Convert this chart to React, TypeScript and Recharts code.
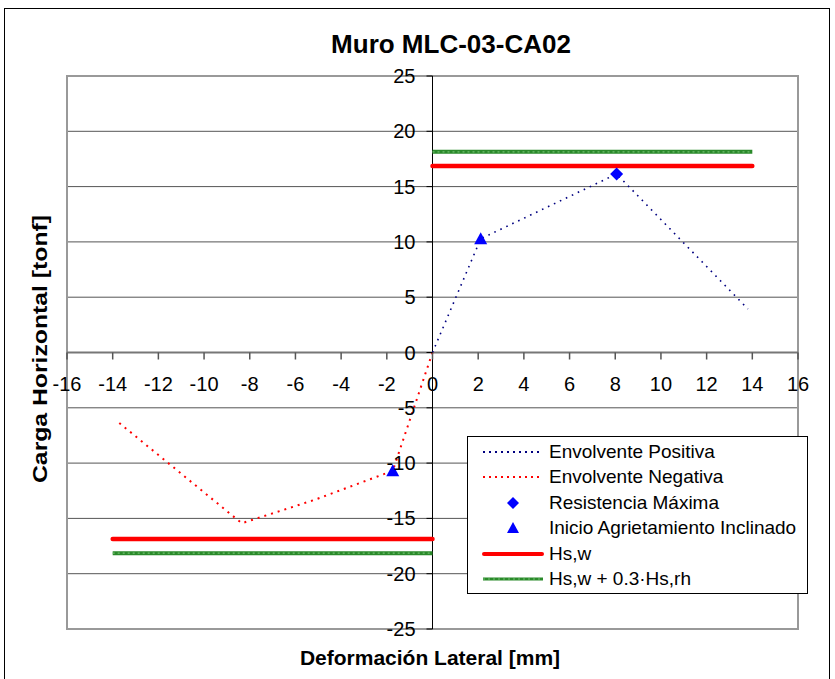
import React from 'react';
import {
  ComposedChart,
  Line,
  Scatter,
  XAxis,
  YAxis,
  CartesianGrid,
  ReferenceLine,
  ReferenceArea,
  Legend,
} from 'recharts';

const FONT = '"Liberation Sans", Arial, Helvetica, sans-serif';

// Chart frame
const WIDTH = 835;
const HEIGHT = 679;
const AXIS_SIZE = 1;
const MARGIN = { top: 76, right: 37, bottom: 50 - AXIS_SIZE, left: 67 - AXIS_SIZE };
const PLOT_W = 731;
const PLOT_H = 553;

// Axis ticks
const xTicks = [-16, -14, -12, -10, -8, -6, -4, -2, 0, 2, 4, 6, 8, 10, 12, 14, 16];
const yTicks = [-25, -20, -15, -10, -5, 0, 5, 10, 15, 20, 25];

// Envelopes [mm, tonf]
const envolventePositiva = [
  { x: 0, y: 0 },
  { x: 2.11, y: 10.28 },
  { x: 8.06, y: 16.14 },
  { x: 13.81, y: 3.93 },
];
const envolventeNegativa = [
  { x: 0, y: 0 },
  { x: -1.74, y: -10.7 },
  { x: -5.2, y: -13.35 },
  { x: -8.35, y: -15.44 },
  { x: -13.83, y: -6.17 },
];

// Characteristic points
const resistenciaMaxima = [{ x: 8.06, y: 16.14 }];
const inicioAgrietamiento = [
  { x: 2.11, y: 10.28 },
  { x: -1.74, y: -10.7 },
];

// Design strengths
const hswPos = [
  { x: 0, y: 16.87 },
  { x: 14, y: 16.87 },
];
const hswNeg = [
  { x: -14, y: -16.87 },
  { x: 0, y: -16.87 },
];
const hswRhPos = [
  { x: 0, y: 18.14 },
  { x: 14, y: 18.14 },
];
const hswRhNeg = [
  { x: -14, y: -18.14 },
  { x: 0, y: -18.14 },
];

const legendItems = [
  { label: 'Envolvente Positiva', kind: 'dotted', color: '#000080' },
  { label: 'Envolvente Negativa', kind: 'dotted', color: '#FF0000' },
  { label: 'Resistencia Máxima', kind: 'diamond', color: '#0000FF' },
  { label: 'Inicio Agrietamiento Inclinado', kind: 'triangle', color: '#0000FF' },
  { label: 'Hs,w', kind: 'red', color: '#FF0000' },
  { label: 'Hs,w + 0.3·Hs,rh', kind: 'green', color: '#2A8A2A' },
];

const Diamond = (props: any) => {
  const { cx, cy } = props;
  const r = 6.5;
  return (
    <polygon
      points={`${cx},${cy - r} ${cx + r},${cy} ${cx},${cy + r} ${cx - r},${cy}`}
      fill="#0000FF"
    />
  );
};

const Triangle = (props: any) => {
  const { cx, cy } = props;
  return (
    <polygon
      points={`${cx},${cy - 6.5} ${cx + 6.5},${cy + 5.5} ${cx - 6.5},${cy + 5.5}`}
      fill="#0000FF"
    />
  );
};

// X ticks drawn along the y = 0 line (axis sits at the plot bottom)
const renderXTick = (props: any) => {
  const { x, y, payload } = props;
  const zeroY = y - PLOT_H / 2;
  return (
    <g key={`xt-${payload.value}`}>
      <line x1={x} y1={zeroY} x2={x} y2={zeroY + 7} stroke="#555" strokeWidth={1.5} />
      <text
        x={x}
        y={zeroY + 38}
        textAnchor="middle"
        fontFamily={FONT}
        fontSize={20}
        fill="#000"
      >
        {payload.value}
      </text>
    </g>
  );
};

// Y ticks drawn along the x = 0 line (axis sits at the plot left)
const renderYTick = (props: any) => {
  const { x, y, payload } = props;
  const zeroX = x + PLOT_W / 2;
  return (
    <g key={`yt-${payload.value}`}>
      <line x1={zeroX - 6} y1={y} x2={zeroX} y2={y} stroke="#000" strokeWidth={1} />
      <text
        x={zeroX - 17}
        y={y + 7}
        textAnchor="end"
        fontFamily={FONT}
        fontSize={20}
        fill="#000"
      >
        {payload.value}
      </text>
    </g>
  );
};

const Sample = ({ kind, color }: { kind: string; color: string }) => (
  <svg width={62} height={20} style={{ display: 'block' }}>
    {kind === 'dotted' && (
      <line x1={1} y1={10} x2={61} y2={10} stroke={color} strokeWidth={2} strokeDasharray="2 4" />
    )}
    {kind === 'diamond' && <polygon points="31,4 37,10 31,16 25,10" fill={color} />}
    {kind === 'triangle' && <polygon points="31,4 37,15 25,15" fill={color} />}
    {kind === 'red' && (
      <line x1={2} y1={10} x2={60} y2={10} stroke={color} strokeWidth={4} strokeLinecap="round" />
    )}
    {kind === 'green' && (
      <g>
        <line x1={1} y1={10} x2={61} y2={10} stroke="#2A8A2A" strokeWidth={3} />
        <line x1={1} y1={10} x2={61} y2={10} stroke="#70BF70" strokeWidth={1} strokeDasharray="2 3" />
      </g>
    )}
  </svg>
);

const renderLegend = () => (
  <div
    style={{
      boxSizing: 'border-box',
      width: 341,
      height: 158,
      border: '1px solid #000',
      background: '#fff',
      paddingTop: 2,
      paddingLeft: 14,
      fontFamily: FONT,
      fontSize: 19,
      color: '#000',
    }}
  >
    {legendItems.map((it) => (
      <div key={it.label} style={{ display: 'flex', alignItems: 'center', height: 25.5 }}>
        <Sample kind={it.kind} color={it.color} />
        <span style={{ marginLeft: 5, whiteSpace: 'nowrap' }}>{it.label}</span>
      </div>
    ))}
  </div>
);

export default function App() {
  return (
    <div
      style={{
        position: 'absolute',
        left: 0,
        top: 0,
        width: WIDTH,
        height: HEIGHT,
        overflow: 'hidden',
        background: '#fff',
      }}
    >
      <div
        style={{
          position: 'absolute',
          left: 4,
          top: 8,
          width: 824,
          height: 720,
          border: '1px solid #000',
        }}
      />
      <div style={{ position: 'absolute', left: 0, top: 0 }}>
        <ComposedChart width={WIDTH} height={HEIGHT} margin={MARGIN}>
          <CartesianGrid horizontal vertical={false} stroke="#555" strokeWidth={1} />
          <XAxis
            type="number"
            dataKey="x"
            domain={[-16, 16]}
            ticks={xTicks}
            interval={0}
            allowDataOverflow
            axisLine={false}
            tickLine={false}
            tickSize={0}
            tickMargin={0}
            height={AXIS_SIZE}
            tick={renderXTick}
          />
          <YAxis
            type="number"
            dataKey="y"
            domain={[-25, 25]}
            ticks={yTicks}
            interval={0}
            allowDataOverflow
            axisLine={false}
            tickLine={false}
            tickSize={0}
            tickMargin={0}
            width={AXIS_SIZE}
            tick={renderYTick}
          />
          <ReferenceArea
            x1={-16}
            x2={16}
            y1={-25}
            y2={25}
            fill="none"
            fillOpacity={0}
            stroke="#999"
            strokeWidth={2}
          />
          <ReferenceLine y={0} stroke="#777" strokeWidth={2} />
          <ReferenceLine x={0} stroke="#000" strokeWidth={1} />

          <Line
            data={hswRhPos}
            dataKey="y"
            type="linear"
            stroke="#2A8A2A"
            strokeWidth={4}
            dot={false}
            isAnimationActive={false}
          />
          <Line
            data={hswRhPos}
            dataKey="y"
            type="linear"
            stroke="#70BF70"
            strokeWidth={1.2}
            strokeDasharray="2 3"
            dot={false}
            isAnimationActive={false}
          />
          <Line
            data={hswRhNeg}
            dataKey="y"
            type="linear"
            stroke="#2A8A2A"
            strokeWidth={4}
            dot={false}
            isAnimationActive={false}
          />
          <Line
            data={hswRhNeg}
            dataKey="y"
            type="linear"
            stroke="#70BF70"
            strokeWidth={1.2}
            strokeDasharray="2 3"
            dot={false}
            isAnimationActive={false}
          />
          <Line
            data={hswPos}
            dataKey="y"
            type="linear"
            stroke="#FF0000"
            strokeWidth={4.5}
            strokeLinecap="round"
            dot={false}
            isAnimationActive={false}
          />
          <Line
            data={hswNeg}
            dataKey="y"
            type="linear"
            stroke="#FF0000"
            strokeWidth={4.5}
            strokeLinecap="round"
            dot={false}
            isAnimationActive={false}
          />
          <Line
            data={envolventePositiva}
            dataKey="y"
            type="linear"
            stroke="#000080"
            strokeWidth={1.6}
            strokeDasharray="1.6 5"
            dot={false}
            isAnimationActive={false}
          />
          <Line
            data={envolventeNegativa}
            dataKey="y"
            type="linear"
            stroke="#FF0000"
            strokeWidth={2}
            strokeDasharray="2 5"
            dot={false}
            isAnimationActive={false}
          />
          <Scatter
            data={resistenciaMaxima}
            dataKey="y"
            shape={<Diamond />}
            isAnimationActive={false}
          />
          <Scatter
            data={inicioAgrietamiento}
            dataKey="y"
            shape={<Triangle />}
            isAnimationActive={false}
          />

          <Legend
            content={renderLegend}
            layout="horizontal"
            verticalAlign="middle"
            align="center"
            wrapperStyle={{ left: 467, top: 436, width: 341, height: 158 }}
          />

          <text
            x={451}
            y={53}
            textAnchor="middle"
            fontFamily={FONT}
            fontSize={26}
            fontWeight="bold"
            fill="#000"
          >
            Muro MLC-03-CA02
          </text>
          <text
            x={430}
            y={665}
            textAnchor="middle"
            fontFamily={FONT}
            fontSize={21}
            fontWeight="bold"
            fill="#000"
          >
            Deformación Lateral [mm]
          </text>
          <text
            x={47}
            y={349}
            textAnchor="middle"
            transform="rotate(-90 47 349)"
            fontFamily={FONT}
            fontSize={21}
            fontWeight="bold"
            fill="#000"
            textLength={268}
            lengthAdjust="spacingAndGlyphs"
          >
            Carga Horizontal [tonf]
          </text>
        </ComposedChart>
      </div>
    </div>
  );
}
